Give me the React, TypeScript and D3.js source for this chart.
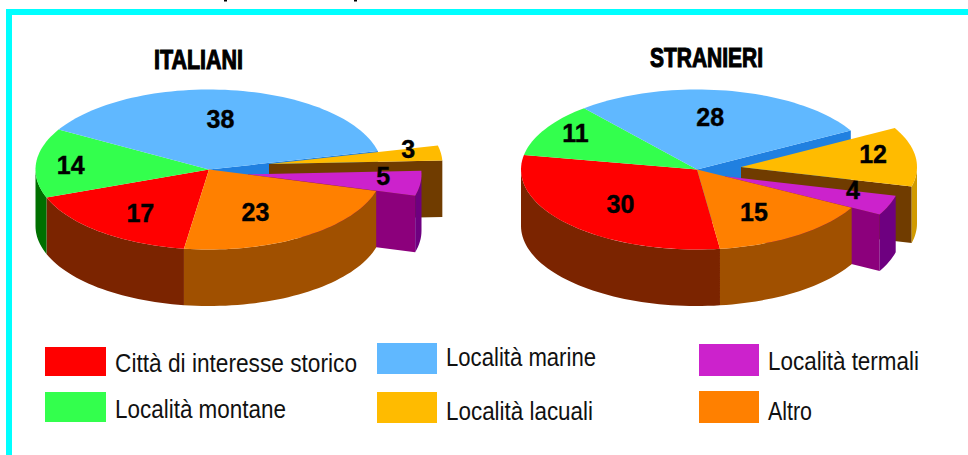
import React from "react";
import * as d3 from "d3";

const categories = [
  "Città di interesse storico",
  "Località montane",
  "Località marine",
  "Località lacuali",
  "Località termali",
  "Altro",
];
const italiani = [17, 14, 38, 3, 5, 23];
const stranieri = [30, 11, 28, 12, 4, 15];

const topColors = ["#ff0000", "#33ff4d", "#60b8ff", "#ffbb00", "#cc22cc", "#ff8000"];
const rimColors = ["#7b2400", "#007000", "#2080e0", "#d09a00", "#6e0080", "#a05000"];
const faceColors = ["#7b2400", "#007000", "#2080e0", "#703c00", "#8c007c", "#a05000"];

const WIDTH = 968;
const HEIGHT = 455;
const DEPTH = 56.5;
const RY = 80;
const RAD = Math.PI / 180;

type PieLayout = {
  title: string;
  titleX: [number, number];
  titleBase: number;
  values: number[];
  cx: number;
  cy: number;
  rx: number;
  start: number;
  // displacement of the pulled-out wedges, by category index
  pull: Record<number, [number, number]>;
  // label reach along each wedge's middle, as fractions of the radii
  reach: [number, number][];
};

const pies: PieLayout[] = [
  {
    title: "ITALIANI",
    titleX: [154, 243],
    titleBase: 69,
    values: italiani,
    cx: 209,
    cy: 169.5,
    rx: 173.5,
    start: 188.3,
    pull: { 3: [60, -5.5], 4: [39, 4.8] },
    reach: [[0.63, 0.7], [0.8, 0.65], [0.46, 0.64], [0.81, 1.4], [0.785, 0.23], [0.49, 0.64]],
  },
  {
    title: "STRANIERI",
    titleX: [650, 763],
    titleBase: 67,
    values: stranieri,
    cx: 697,
    cy: 169.5,
    rx: 176,
    start: 172.5,
    pull: { 3: [44, -2.5], 4: [28, 6.8] },
    reach: [[0.6, 0.63], [0.8, 0.9], [0.41, 0.67], [0.757, 1.2], [0.78, 0.46], [0.572, 0.645]],
  },
];

type LegendItem = { cat: number; box: [number, number, number, number]; textX: [number, number]; base: number };
const legendItems: LegendItem[] = [
  { cat: 0, box: [45, 347, 61, 29], textX: [115, 357], base: 372 },
  { cat: 1, box: [45, 392, 61, 30], textX: [115, 286], base: 418 },
  { cat: 2, box: [377, 343, 60, 31], textX: [446, 596], base: 366 },
  { cat: 3, box: [377, 392, 60, 31], textX: [446, 593], base: 420 },
  { cat: 4, box: [699, 344, 60, 32], textX: [768, 919], base: 370 },
  { cat: 5, box: [699, 391, 60, 32], textX: [768, 812], base: 420 },
];

const line = d3.line<[number, number]>();

// Elliptical projection of a pie angle (radians, clockwise from twelve o'clock).
function rimPoints(cx: number, cy: number, rx: number, a0: number, a1: number): [number, number][] {
  const n = Math.max(2, Math.ceil(Math.abs(a1 - a0) / (RAD * 2)));
  return d3.range(n + 1).map((i) => {
    const a = a0 + ((a1 - a0) * i) / n;
    return [cx + rx * Math.sin(a), cy - RY * Math.cos(a)] as [number, number];
  });
}

function Pie3D({ p }: { p: PieLayout }) {
  const wedges = d3
    .pie<number>()
    .sort(null)
    .startAngle(p.start * RAD)
    .endAngle((p.start + 360) * RAD)(p.values);

  const centre = (i: number): [number, number] => {
    const o = p.pull[i] ?? [0, 0];
    return [p.cx + o[0], p.cy + o[1]];
  };

  const top = (i: number) => {
    const [x, y] = centre(i);
    const w = wedges[i];
    return line([[x, y], ...rimPoints(x, y, p.rx, w.startAngle, w.endAngle)]) + "Z";
  };

  // Outer wall of the part of a wedge that faces the viewer (90° to 270°).
  const rimWall = (i: number) => {
    const [x, y] = centre(i);
    const w = wedges[i];
    return [0, 360]
      .map((turn) => [
        Math.max(w.startAngle - turn * RAD, 90 * RAD),
        Math.min(w.endAngle - turn * RAD, 270 * RAD),
      ])
      .filter(([a, b]) => b > a)
      .map(([a, b]) => {
        const upper = rimPoints(x, y, p.rx, a, b);
        const lower = upper.map(([px, py]) => [px, py + DEPTH] as [number, number]).reverse();
        return line([...upper, ...lower]) + "Z";
      })
      .join("");
  };

  // Cut face along the wedge's closing edge.
  const endFace = (i: number) => {
    const [x, y] = centre(i);
    const a = wedges[i].endAngle;
    const rx = x + p.rx * Math.sin(a);
    const ry = y - RY * Math.cos(a);
    return line([[x, y], [rx, ry], [rx, ry + DEPTH], [x, y + DEPTH]]) + "Z";
  };

  const pulled = Object.keys(p.pull).map(Number);
  const fixed = p.values.map((_, i) => i).filter((i) => !(i in p.pull));
  const beforePull = wedges.findIndex((_, i) => p.pull[i + 1] && !p.pull[i]);

  return (
    <g>
      <path d={endFace(beforePull)} fill={faceColors[beforePull]} />
      {pulled.map((i) => (
        <g key={i}>
          <path d={endFace(i)} fill={faceColors[i]} />
          <path d={rimWall(i)} fill={rimColors[i]} />
          <path d={top(i)} fill={topColors[i]} />
        </g>
      ))}
      {fixed.map((i) => (
        <path key={`w${i}`} d={rimWall(i)} fill={rimColors[i]} />
      ))}
      {fixed.map((i) => (
        <path key={`t${i}`} d={top(i)} fill={topColors[i]} />
      ))}
      {wedges.map((w, i) => {
        const [x, y] = centre(i);
        const mid = (w.startAngle + w.endAngle) / 2;
        const [fx, fy] = p.reach[i];
        return (
          <text
            key={`l${i}`}
            x={x + fx * p.rx * Math.sin(mid)}
            y={y - fy * RY * Math.cos(mid)}
            dy="0.36em"
            textAnchor="middle"
            fontFamily="'Liberation Sans', Arial, sans-serif"
            fontWeight="bold"
            fontSize={25}
            stroke="#000"
            strokeWidth={0.4}
            fill="#000"
          >
            {p.values[i]}
          </text>
        );
      })}
      <text
        x={p.titleX[0]}
        y={p.titleBase}
        textLength={p.titleX[1] - p.titleX[0]}
        lengthAdjust="spacingAndGlyphs"
        fontFamily="'Liberation Sans', Arial, sans-serif"
        fontWeight="bold"
        fontSize={27}
        stroke="#000"
        strokeWidth={1.1}
        fill="#000"
      >
        {p.title}
      </text>
    </g>
  );
}

export default function App() {
  return (
    <svg
      width={WIDTH}
      height={HEIGHT}
      viewBox={`0 0 ${WIDTH} ${HEIGHT}`}
      style={{ position: "absolute", left: 0, top: 0, background: "#fff" }}
    >
      {/* descenders of the heading cropped off above the frame */}
      <rect x={224} y={0} width={3} height={1.5} fill="#000" />
      <rect x={354} y={0} width={3} height={1.5} fill="#000" />
      <rect x={6} y={9} width={WIDTH - 6} height={6} fill="#00ffff" />
      <rect x={6} y={9} width={6} height={HEIGHT - 9} fill="#00ffff" />
      {pies.map((p) => (
        <Pie3D key={p.title} p={p} />
      ))}
      {legendItems.map((l) => (
        <g key={l.cat}>
          <rect x={l.box[0]} y={l.box[1]} width={l.box[2]} height={l.box[3]} fill={topColors[l.cat]} />
          <text
            x={l.textX[0]}
            y={l.base}
            textLength={l.textX[1] - l.textX[0]}
            lengthAdjust="spacingAndGlyphs"
            fontFamily="'Liberation Sans', Arial, sans-serif"
            fontSize={26}
            fill="#111"
          >
            {categories[l.cat]}
          </text>
        </g>
      ))}
    </svg>
  );
}
